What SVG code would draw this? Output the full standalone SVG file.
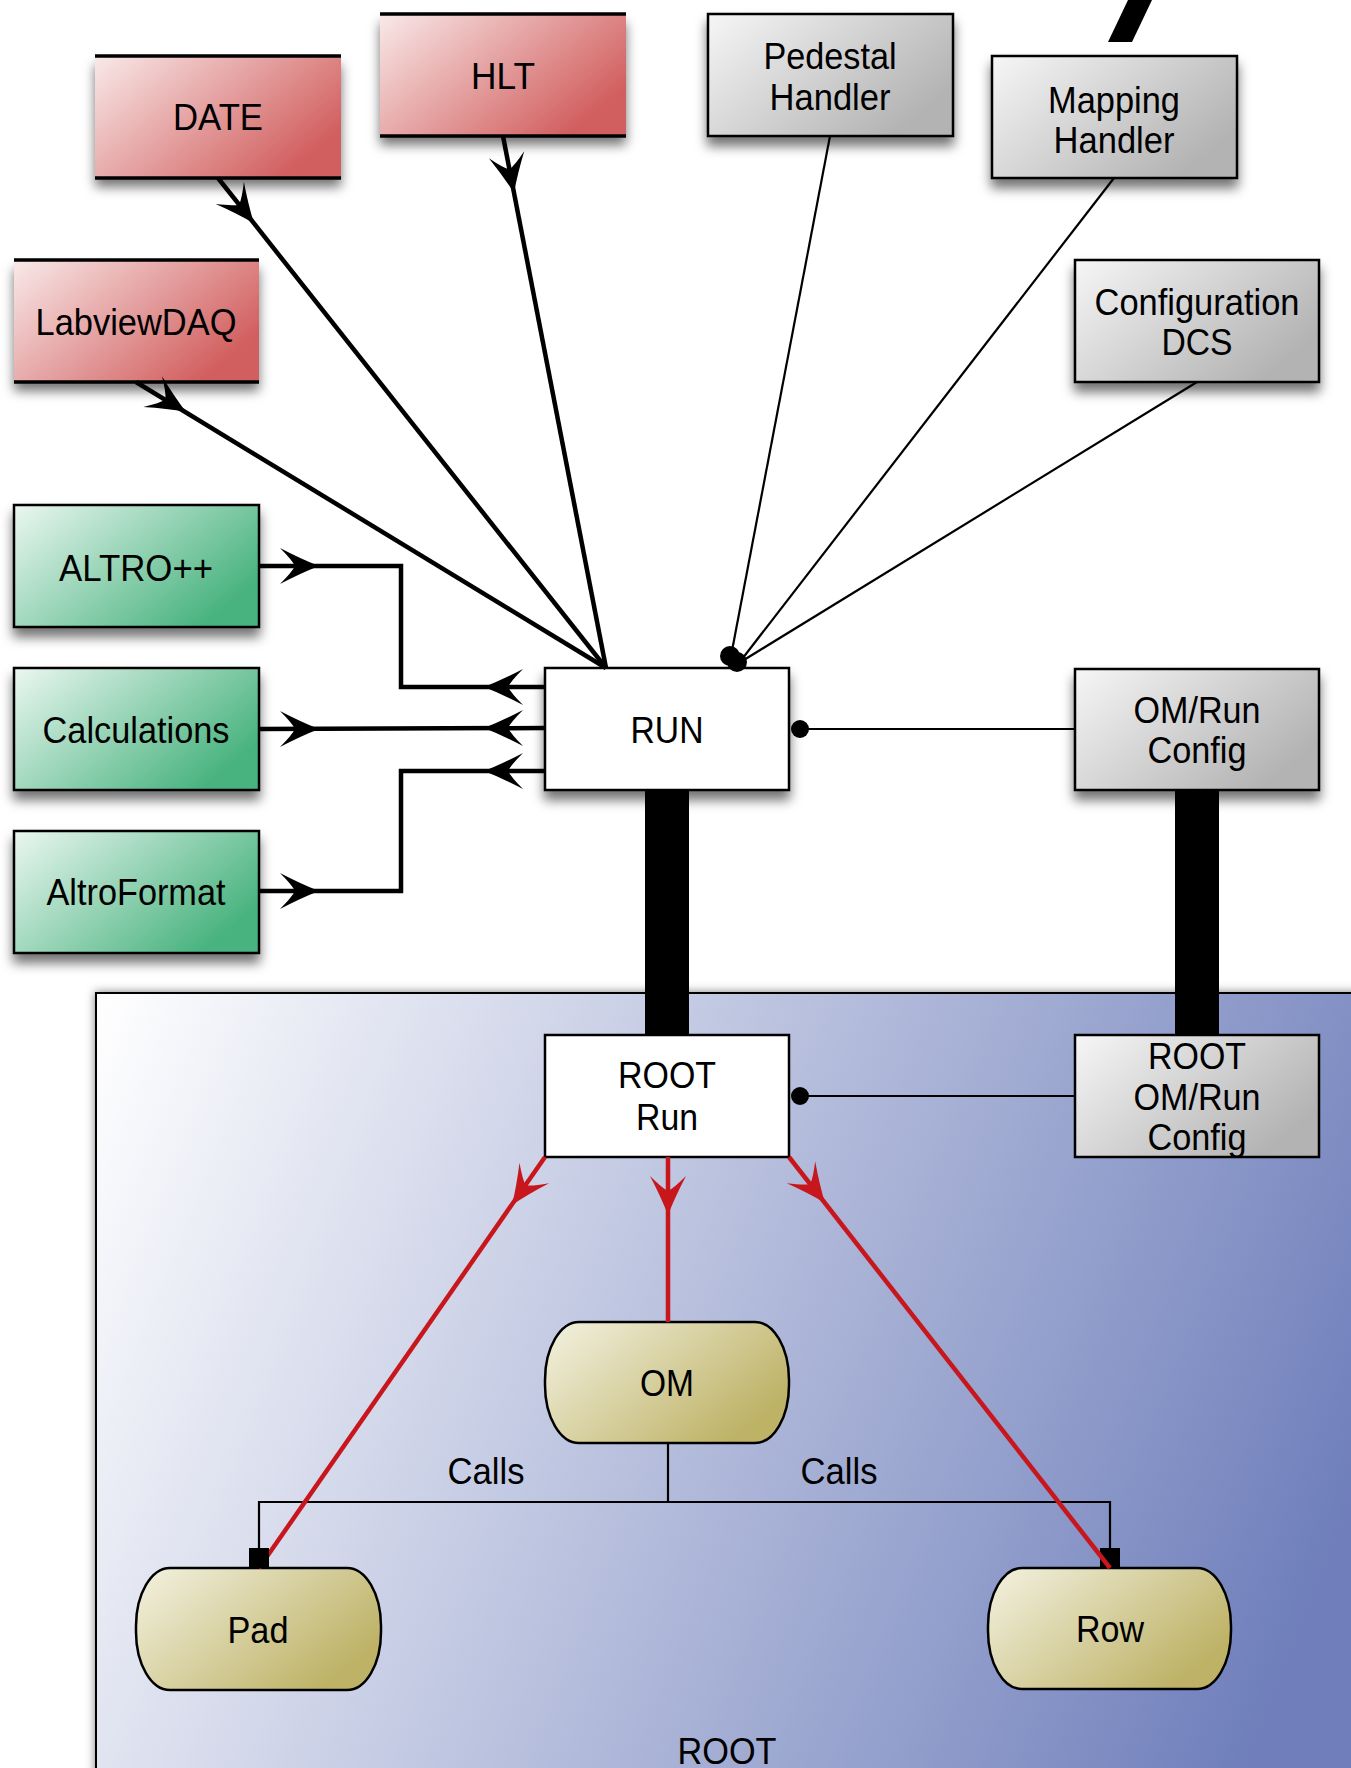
<svg xmlns="http://www.w3.org/2000/svg" xmlns:xlink="http://www.w3.org/1999/xlink" width="1351" height="1768" viewBox="0 0 1351 1768">
<defs>
<linearGradient id="gRed" x1="0" y1="0" x2="1" y2="0.6"><stop offset="0" stop-color="#f9e9e9"/><stop offset="1" stop-color="#d25f5f"/></linearGradient>
<linearGradient id="gGray" x1="0" y1="0" x2="1" y2="0.6"><stop offset="0" stop-color="#f6f6f6"/><stop offset="1" stop-color="#b3b3b3"/></linearGradient>
<linearGradient id="gGreen" x1="0" y1="0" x2="1" y2="0.6"><stop offset="0" stop-color="#ebf7f1"/><stop offset="1" stop-color="#49b37f"/></linearGradient>
<linearGradient id="gYel" x1="0" y1="0" x2="1" y2="0.6"><stop offset="0" stop-color="#f4f2e2"/><stop offset="1" stop-color="#bdb266"/></linearGradient>
<linearGradient id="gRoot" gradientUnits="userSpaceOnUse" x1="96" y1="1000" x2="1351" y2="1500"><stop offset="0" stop-color="#ffffff"/><stop offset="1" stop-color="#6f7fbb"/></linearGradient>
<filter id="sh" x="-20%" y="-20%" width="140%" height="160%"><feDropShadow dx="0" dy="9" stdDeviation="6" flood-color="#000" flood-opacity="0.55"/></filter>
<filter id="shR" x="-5%" y="-5%" width="110%" height="110%"><feDropShadow dx="0" dy="0" stdDeviation="5" flood-color="#000" flood-opacity="0.5"/></filter>
<path id="ah" d="M0,0 Q-18,-7 -39,-18 Q-27,-6 -24,0 Q-27,6 -39,18 Q-18,7 0,0Z"/>
</defs>
<style>
text{font-family:"Liberation Sans",Arial,Helvetica,sans-serif;font-size:37px;fill:#000;text-anchor:middle}
.gray{fill:url(#gGray);stroke:#000;stroke-width:2.5;filter:url(#sh)}
.green{fill:url(#gGreen);stroke:#000;stroke-width:2.5;filter:url(#sh)}
.redf{fill:url(#gRed);filter:url(#sh)}
.redl{stroke:#000;stroke-width:3.5}
.white{fill:#fff;stroke:#000;stroke-width:2.5}
.pill{fill:url(#gYel);stroke:#000;stroke-width:2.5}
.thick{fill:none;stroke:#000;stroke-width:4.5}
.thin{fill:none;stroke:#000;stroke-width:2.2}
.redc{fill:none;stroke:#c8161d;stroke-width:4.5}
</style>
<rect width="1351" height="1768" fill="#fff"/>

<g id="root-container">
<rect x="96" y="993" width="1280" height="800" fill="url(#gRoot)" stroke="#000" stroke-width="2" filter="url(#shR)"/>
<text x="727" y="1764" textLength="99" lengthAdjust="spacingAndGlyphs">ROOT</text>
</g>

<g id="date"><rect class="redf" x="95" y="56" width="246" height="122"/><line class="redl" x1="95" y1="56" x2="341" y2="56"/><line class="redl" x1="95" y1="178" x2="341" y2="178"/><text x="218" y="130" textLength="90" lengthAdjust="spacingAndGlyphs">DATE</text></g>
<g id="hlt"><rect class="redf" x="380" y="14" width="246" height="122"/><line class="redl" x1="380" y1="14" x2="626" y2="14"/><line class="redl" x1="380" y1="136" x2="626" y2="136"/><text x="503" y="89" textLength="64" lengthAdjust="spacingAndGlyphs">HLT</text></g>
<g id="labviewdaq"><rect class="redf" x="14" y="260" width="245" height="122"/><line class="redl" x1="14" y1="260" x2="259" y2="260"/><line class="redl" x1="14" y1="382" x2="259" y2="382"/><text x="136" y="335" textLength="201" lengthAdjust="spacingAndGlyphs">LabviewDAQ</text></g>

<g id="pedestal"><rect class="gray" x="708" y="14" width="245" height="122"/><text x="830" y="69" textLength="133" lengthAdjust="spacingAndGlyphs">Pedestal</text><text x="830" y="110" textLength="121" lengthAdjust="spacingAndGlyphs">Handler</text></g>
<g id="mapping"><rect class="gray" x="992" y="56" width="245" height="122"/><text x="1114" y="113" textLength="132" lengthAdjust="spacingAndGlyphs">Mapping</text><text x="1114" y="153" textLength="121" lengthAdjust="spacingAndGlyphs">Handler</text></g>
<g id="configdcs"><rect class="gray" x="1075" y="260" width="244" height="122"/><text x="1197" y="315" textLength="205" lengthAdjust="spacingAndGlyphs">Configuration</text><text x="1197" y="355" textLength="71" lengthAdjust="spacingAndGlyphs">DCS</text></g>

<g id="altro"><rect class="green" x="14" y="505" width="245" height="122"/><text x="136" y="581" textLength="154" lengthAdjust="spacingAndGlyphs">ALTRO++</text></g>
<g id="calculations"><rect class="green" x="14" y="668" width="245" height="122"/><text x="136" y="743" textLength="187" lengthAdjust="spacingAndGlyphs">Calculations</text></g>
<g id="altroformat"><rect class="green" x="14" y="831" width="245" height="122"/><text x="136" y="905" textLength="179" lengthAdjust="spacingAndGlyphs">AltroFormat</text></g>

<g id="run"><rect class="white" x="545" y="668" width="244" height="122" filter="url(#sh)"/><text x="667" y="743" textLength="73" lengthAdjust="spacingAndGlyphs">RUN</text></g>
<g id="omrunconfig"><rect class="gray" x="1075" y="669" width="244" height="121"/><text x="1197" y="723" textLength="127" lengthAdjust="spacingAndGlyphs">OM/Run</text><text x="1197" y="763" textLength="99" lengthAdjust="spacingAndGlyphs">Config</text></g>

<g id="rootrun"><rect class="white" x="545" y="1035" width="244" height="122"/><text x="667" y="1088" textLength="98" lengthAdjust="spacingAndGlyphs">ROOT</text><text x="667" y="1130" textLength="62" lengthAdjust="spacingAndGlyphs">Run</text></g>
<g id="rootomrunconfig"><rect x="1075" y="1035" width="244" height="122" fill="url(#gGray)" stroke="#000" stroke-width="2.5"/><text x="1197" y="1069" textLength="98" lengthAdjust="spacingAndGlyphs">ROOT</text><text x="1197" y="1110" textLength="127" lengthAdjust="spacingAndGlyphs">OM/Run</text><text x="1197" y="1150" textLength="99" lengthAdjust="spacingAndGlyphs">Config</text></g>

<g id="om"><rect class="pill" x="545" y="1322" width="244" height="121" rx="34" ry="58"/><text x="667" y="1396" textLength="54" lengthAdjust="spacingAndGlyphs">OM</text></g>
<g id="pad"><rect class="pill" x="136" y="1568" width="245" height="122" rx="34" ry="58"/><text x="258" y="1643" textLength="61" lengthAdjust="spacingAndGlyphs">Pad</text></g>
<g id="row"><rect class="pill" x="988" y="1568" width="243" height="121" rx="34" ry="58"/><text x="1110" y="1642" textLength="68" lengthAdjust="spacingAndGlyphs">Row</text></g>

<g id="connectors">
<polygon points="1128,0 1152,0 1132,42 1108,42" fill="#000"/>
<line class="thick" x1="218" y1="178" x2="606" y2="668"/>
<use xlink:href="#ah" transform="translate(254,223.5) rotate(51.6)"/>
<line class="thick" x1="503" y1="136" x2="606" y2="668"/>
<use xlink:href="#ah" transform="translate(514,193) rotate(79)"/>
<line class="thick" x1="136" y1="382" x2="606" y2="668"/>
<use xlink:href="#ah" transform="translate(186,412) rotate(31.3)"/>
<line class="thin" x1="830" y1="136" x2="731" y2="656"/>
<line class="thin" x1="1114" y1="178" x2="739" y2="663"/>
<line class="thin" x1="1197" y1="382" x2="739" y2="663"/>
<circle cx="730" cy="656" r="10"/>
<circle cx="737" cy="662" r="10"/>
<polyline class="thick" points="260,566 401,566 401,687 545,687"/>
<use xlink:href="#ah" transform="translate(319,566)"/>
<use xlink:href="#ah" transform="translate(484,687) rotate(180)"/>
<line class="thick" x1="260" y1="729" x2="545" y2="728"/>
<use xlink:href="#ah" transform="translate(319,729)"/>
<use xlink:href="#ah" transform="translate(484,728) rotate(180)"/>
<polyline class="thick" points="260,891 401,891 401,771 545,771"/>
<use xlink:href="#ah" transform="translate(319,891)"/>
<use xlink:href="#ah" transform="translate(484,771) rotate(180)"/>
<line class="thin" x1="800" y1="729" x2="1075" y2="729"/>
<circle cx="800" cy="729" r="9"/>
<line class="thin" x1="800" y1="1096" x2="1075" y2="1096"/>
<circle cx="800" cy="1096" r="9"/>
<rect x="645" y="791" width="44" height="243" fill="#000"/>
<rect x="1175" y="791" width="44" height="243" fill="#000"/>
<polyline class="thin" points="259,1548 259,1502 1110,1502 1110,1548"/>
<line class="thin" x1="668" y1="1443" x2="668" y2="1502"/>
<line class="redc" x1="545" y1="1157" x2="259" y2="1568"/>
<rect x="249" y="1548" width="20" height="20" fill="#000"/>
<rect x="1100" y="1548" width="20" height="20" fill="#000"/>
<line class="redc" x1="789" y1="1157" x2="1110" y2="1568"/>
<line class="redc" x1="668" y1="1157" x2="668" y2="1322"/>
<use xlink:href="#ah" fill="#c8161d" transform="translate(512,1205) rotate(124.8)"/>
<use xlink:href="#ah" fill="#c8161d" transform="translate(668,1215) rotate(90)"/>
<use xlink:href="#ah" fill="#c8161d" transform="translate(825,1203) rotate(52)"/>
<text x="486" y="1484" textLength="77" lengthAdjust="spacingAndGlyphs">Calls</text>
<text x="839" y="1484" textLength="77" lengthAdjust="spacingAndGlyphs">Calls</text>
</g>
</svg>
